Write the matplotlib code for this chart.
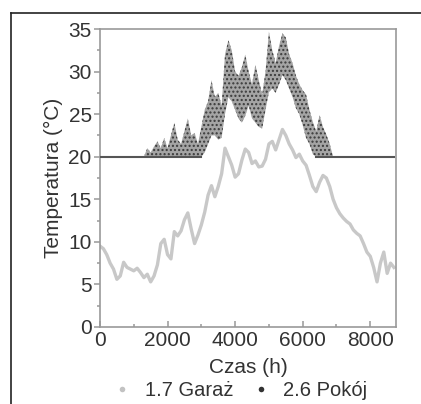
import numpy as np
import matplotlib
matplotlib.use("Agg")
import matplotlib.pyplot as plt
from matplotlib.lines import Line2D

plt.rcParams['font.family'] = ['Liberation Sans', 'DejaVu Sans']
plt.rcParams['hatch.linewidth'] = 1.0

# czas (h), probki co 100 h
godziny = np.arange(0, 8800, 100)

# 1.7 Garaz - temperatura
garaz = [9.5, 9.2, 8.5, 7.5, 6.8, 5.6, 6.0, 7.6, 7.0, 6.8,
         6.6, 6.9, 6.4, 5.8, 6.2, 5.3, 6.0, 7.3, 9.8, 10.3,
         8.5, 8.0, 11.2, 10.7, 11.3, 12.6, 13.4, 11.5, 9.8, 10.8,
         12.0, 13.5, 15.5, 16.6, 15.3, 16.5, 18.0, 21.0, 20.0, 19.0,
         17.6, 18.0, 19.6, 20.9, 20.5, 19.2, 19.5, 18.8, 18.9, 19.7,
         21.5, 21.8, 20.8, 22.0, 23.2, 22.5, 21.5, 20.8, 19.9, 20.3,
         19.5, 19.0, 17.8, 16.5, 15.9, 17.0, 17.8, 17.5, 16.5, 15.0,
         14.0, 13.3, 12.8, 12.4, 12.1, 11.4, 11.0, 10.7, 9.8, 8.8,
         8.3, 7.0, 5.3, 7.5, 8.8, 6.3, 7.5, 7.0]

# 2.6 Pokoj - dolna i gorna granica chmury punktow
pokoj_min = [20.0] * 31 + [
    20.5, 21.5, 22.5, 22.5, 22.0, 22.2, 25.0, 27.0, 26.5,
    25.5, 24.5, 24.0, 24.8, 26.0, 24.5, 24.0, 23.5, 23.3, 25.5,
    27.6, 28.0, 27.5, 28.5, 29.6, 29.0, 28.0, 27.0, 25.7, 25.0,
    23.7, 22.2, 21.5, 20.3] + [20.0] * 24
pokoj_max = [20.0] * 13 + [
    20.0, 21.0, 20.5, 21.2, 21.8, 21.0, 22.2,
    21.0, 22.5, 24.0, 22.0, 21.5, 23.0, 24.5, 22.5, 22.8, 21.5,
    23.5, 25.5, 26.5, 29.0, 27.0, 27.5, 26.0, 32.0, 33.7, 32.5,
    30.0, 29.5, 30.5, 32.0, 30.0, 28.5, 30.8, 29.0, 27.3, 30.0,
    34.7, 32.5, 31.0, 33.0, 34.5, 34.0, 32.0, 31.0, 29.5, 28.5,
    27.8, 27.3, 25.5, 24.1, 23.0, 24.9, 23.5, 22.6, 21.5, 20.0] + [20.0] * 18

pokoj_min = np.array(pokoj_min)
pokoj_max = np.array(pokoj_max)

fig = plt.figure(figsize=(4.21, 4.04), dpi=100)
ax = fig.add_axes([0.2375, 0.1906, 0.703, 0.7376])

szary = '#999999'
tekst = '#333333'

ax.plot(godziny, garaz, color='#c8c8c8', lw=2.4, solid_joinstyle='round', zorder=2)

ax.fill_between(godziny, pokoj_min, pokoj_max, facecolor='#a4a4a4',
                edgecolor='#3a3a3a', hatch='....', linewidth=0, zorder=3)
baza = np.where(pokoj_min == 20.0, pokoj_min, np.nan)
ax.plot(godziny, baza, color='#555555', lw=1.5, zorder=4)

ax.set_xlim(0, 8760)
ax.set_ylim(0, 35)
ax.set_xticks([0, 2000, 4000, 6000, 8000])
ax.set_xticks(np.arange(1000, 8760, 2000), minor=True)
ax.set_yticks(np.arange(0, 36, 5))
ax.set_yticks(np.arange(2.5, 35, 5), minor=True)

for s in ax.spines.values():
    s.set_color(szary)
    s.set_linewidth(1.2)

ax.tick_params(axis='y', which='both', direction='out', color=szary, width=1.1,
               labelsize=15, labelcolor=tekst, pad=2)
ax.tick_params(axis='y', which='major', length=4)
ax.tick_params(axis='y', which='minor', length=2.5)
ax.tick_params(axis='x', which='both', direction='in', color=szary, width=1.1,
               labelsize=15, labelcolor=tekst, pad=3)
ax.tick_params(axis='x', which='major', length=4)
ax.tick_params(axis='x', which='minor', length=2.5)

ax.set_xlabel('Czas (h)', fontsize=15, color=tekst, labelpad=6)
ax.set_ylabel('Temperatura (°C)', fontsize=15, color=tekst, labelpad=4)

uchwyty = [Line2D([], [], ls='none', marker='o', ms=4, color='#c2c2c2', mec='none'),
           Line2D([], [], ls='none', marker='o', ms=4, color='#333333', mec='none')]
fig.legend(uchwyty, ['1.7 Garaż', '2.6 Pokój'], loc='lower center', ncol=2,
           bbox_to_anchor=(0.57, -0.035), frameon=False, fontsize=14.5,
           labelcolor=tekst, handlelength=1.0, handletextpad=0.6, columnspacing=0.9)

# ramka wokol rysunku (tylko gora i lewa strona)
fig.add_artist(Line2D([11 / 421, 1], [1 - 13 / 404, 1 - 13 / 404],
                      transform=fig.transFigure, color='#222222', lw=1.2))
fig.add_artist(Line2D([11 / 421, 11 / 421], [0, 1 - 13 / 404],
                      transform=fig.transFigure, color='#222222', lw=1.2))

fig.savefig('out.png', dpi=100)
